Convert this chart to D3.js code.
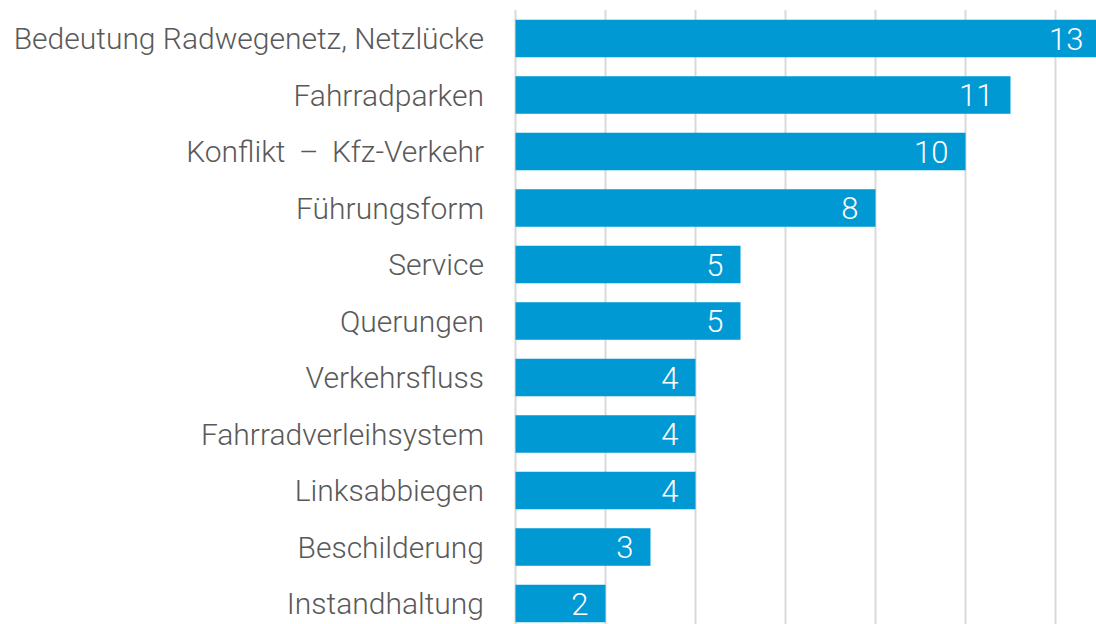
<!DOCTYPE html>
<html>
<head>
<meta charset="utf-8">
<script src="https://cdn.jsdelivr.net/npm/d3@7"></script>
<style>
  html, body { margin: 0; padding: 0; background: #fff; }
  svg { display: block; }
  text { font-family: "Roboto", "Open Sans", sans-serif; font-weight: 300; white-space: pre; }
</style>
</head>
<body>
<svg id="chart" width="1096" height="624"></svg>
<script>
// Nennungen je Themenbereich
const categories = [
  "Bedeutung Radwegenetz, Netzlücke",
  "Fahrradparken",
  "Konflikt \u2009–\u2009 Kfz-Verkehr",
  "Führungsform",
  "Service",
  "Querungen",
  "Verkehrsfluss",
  "Fahrradverleihsystem",
  "Linksabbiegen",
  "Beschilderung",
  "Instandhaltung"
];
const values = [13, 11, 10, 8, 5, 5, 4, 4, 4, 3, 2];
const gridTicks = [0, 2, 4, 6, 8, 10, 12];

const width = 1096, height = 624;
const svg = d3.select("#chart");

const x = d3.scaleLinear().domain([0, 12]).range([515.5, 1055.5]);
const y = d3.scaleBand()
  .domain(categories)
  .range([10.25, 631.75])
  .paddingInner(0.336)
  .paddingOuter(0.168);

// vertical gridlines
svg.append("g")
  .selectAll("line")
  .data(gridTicks)
  .join("line")
  .attr("x1", d => x(d)).attr("x2", d => x(d))
  .attr("y1", 10).attr("y2", height)
  .attr("stroke", "#d9d9d9")
  .attr("stroke-width", 2);

// bars
svg.append("g")
  .selectAll("rect")
  .data(values)
  .join("rect")
  .attr("x", x(0))
  .attr("y", (d, i) => y(categories[i]))
  .attr("width", d => x(d) - x(0))
  .attr("height", y.bandwidth())
  .attr("fill", "#0099d4");

// value labels inside bar ends
svg.append("g")
  .selectAll("text")
  .data(values)
  .join("text")
  .attr("x", d => x(d) - 17)
  .attr("y", (d, i) => y(categories[i]) + y.bandwidth() / 2)
  .attr("dy", "0.36em")
  .attr("text-anchor", "end")
  .attr("fill", "#ffffff")
  .attr("font-size", 31)
  .text(d => d);

// category labels
svg.append("g")
  .selectAll("text")
  .data(categories)
  .join("text")
  .attr("x", 484)
  .attr("y", d => y(d) + y.bandwidth() / 2)
  .attr("dy", "0.36em")
  .attr("text-anchor", "end")
  .attr("fill", "#595959")
  .attr("font-size", 30)
  .text(d => d);
</script>
</body>
</html>
